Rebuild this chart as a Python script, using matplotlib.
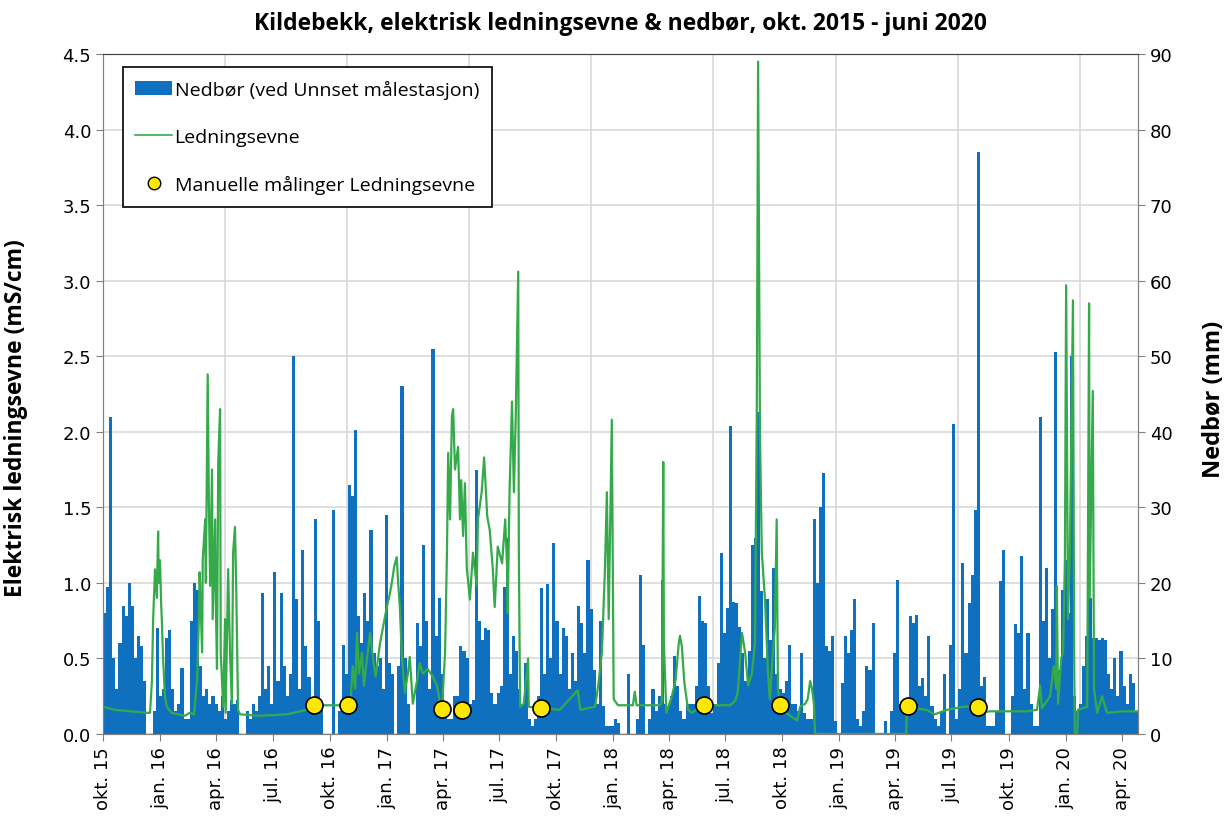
import numpy as np
import pandas as pd
import matplotlib
matplotlib.use('Agg')
import matplotlib.pyplot as plt
from matplotlib.lines import Line2D
from matplotlib.patches import Patch

plt.rcParams['font.family'] = ['DejaVu Sans']

start = pd.Timestamp('2015-10-01')

# nedbør (mm), 5-dagers intervall fra 1. okt. 2015
precip_mm = [
    16, 19.5, 42, 10, 6, 12, 17, 15.6, 20, 17,
    10, 13, 11.6, 7, 0, 0, 3, 14, 5, 6,
    12.7, 13.8, 6, 3, 4, 8.7, 2, 2, 15, 20,
    19, 9, 5, 6, 4, 5, 4, 3, 5, 2,
    3, 4.5, 4, 4.5, 0, 0, 3, 2, 4, 3,
    5, 18.7, 6, 9, 4, 21.5, 7, 18.7, 9, 5,
    8, 50, 17.8, 6, 24.4, 11.6, 7.6, 3, 28.4, 15,
    4, 0, 0, 0, 29.7, 0, 3, 11.8, 8, 33,
    31.5, 40.3, 15.6, 12, 18.7, 15, 27, 10.7, 9, 10,
    6, 29, 9.4, 8, 0, 9, 46, 10, 4, 0,
    0, 14.7, 11.6, 25, 15, 6, 51, 13, 18, 8,
    4, 2, 2, 5, 5, 11.6, 11, 10, 4, 4.5,
    35, 15, 12.5, 14, 13.8, 5.4, 4, 5.4, 6.3, 19.5,
    26, 8, 13, 11, 6, 4, 9.4, 2, 1, 2,
    5, 19.3, 8, 19.8, 10, 25.3, 15, 8, 14, 13,
    6, 10.7, 7, 17, 14.7, 10.7, 23, 16.5, 8.5, 4,
    15, 3.7, 1, 1, 1, 2, 1.5, 0, 0, 8,
    0, 0, 2, 21, 11.8, 0, 2, 6, 3, 5,
    20.4, 4, 3.7, 5, 10.3, 6.3, 3, 2, 4, 4,
    4, 6.3, 18.2, 15, 14.7, 6.3, 2.8, 4, 9.4, 24,
    13.4, 16.7, 40.8, 17.5, 17.3, 14.2, 10.7, 7, 11, 25,
    26, 42.6, 18.9, 10, 17.8, 12.5, 22, 8, 6, 5.4,
    7, 11.8, 4, 4, 3, 10.7, 2.8, 2, 2, 28.4,
    20, 30, 34.5, 11.6, 11, 13, 1.7, 0, 6.7, 13,
    10.7, 13.8, 17.8, 2, 1, 3, 9, 8.5, 14.7, 0,
    0, 0, 1.7, 0, 3, 10.7, 20.4, 4, 4, 4,
    15.6, 14.7, 15.8, 6.3, 7.4, 5, 13, 3.7, 2, 1,
    3, 8, 0, 11.8, 41, 2, 6, 22.6, 10.7, 17.3,
    21, 29.7, 77, 6.3, 7.6, 1, 1, 1, 3, 20.2,
    24.4, 0, 0, 5, 14.5, 13.4, 23.6, 6, 13.4, 4,
    1, 1, 42, 15, 22, 10, 16.5, 50.6, 8.5, 19,
    23, 16, 50, 5, 3, 4, 9, 13, 18, 12.7,
    12.7, 12.5, 12.7, 12.5, 8, 6, 10, 5, 11, 6.3,
    4, 8, 6.7, 3,
]

# ledningsevne (mS/cm), dag nr. fra 1. okt. 2015
cond_day = [
    0, 19, 44, 71, 76, 79, 81, 84, 87, 89, 90, 92, 94, 95, 97, 100, 103, 111, 132, 140,
    147, 152, 155, 156, 160, 161, 165, 166, 169, 171, 173, 176, 177, 181, 182, 184, 186, 189, 190, 194,
    197, 198, 202, 205, 208, 210, 213, 215, 218, 221, 253, 297, 318, 329, 340, 395, 400, 403, 407, 410,
    413, 418, 421, 426, 431, 436, 440, 447, 452, 458, 463, 466, 470, 474, 476, 479, 482, 487, 492, 495,
    500, 507, 511, 516, 524, 532, 539, 544, 547, 552, 555, 557, 560, 563, 565, 568, 573, 576, 578, 581,
    584, 587, 592, 597, 603, 605, 611, 615, 620, 624, 629, 632, 637, 644, 649, 652, 653, 656, 660, 663,
    666, 670, 671, 673, 679, 686, 687, 705, 737, 766, 770, 794, 799, 805, 810, 813, 816, 821, 824, 831,
    855, 858, 861, 899, 902, 904, 905, 909, 918, 924, 929, 931, 934, 938, 944, 950, 960, 970, 1012, 1020,
    1024, 1031, 1036, 1041, 1047, 1052, 1055, 1057, 1060, 1063, 1068, 1073, 1076, 1081, 1084, 1087, 1089, 1092, 1102, 1112,
    1120, 1125, 1133, 1137, 1141, 1144, 1147, 1149, 1296, 1297, 1299, 1310, 1329, 1342, 1362, 1388, 1412, 1417, 1431, 1491,
    1507, 1512, 1515, 1528, 1534, 1538, 1539, 1541, 1546, 1549, 1552, 1554, 1557, 1560, 1565, 1567, 1568, 1572, 1573, 1588,
    1591, 1592, 1597, 1599, 1604, 1612, 1620, 1646, 1670,
]
cond_val = [
    0.18, 0.16, 0.15, 0.14, 0.14, 0.35, 0.76, 1.09, 0.9, 1.34, 1.0, 1.15, 0.85, 0.76, 0.5, 0.25, 0.18, 0.14, 0.12, 0.14,
    0.13, 0.36, 0.8, 1.07, 0.54, 1.15, 1.42, 1.0, 2.38, 1.5, 0.98, 1.75, 0.76, 1.42, 0.9, 0.43, 1.8, 2.15, 0.54, 0.18,
    0.76, 0.14, 1.09, 0.54, 0.2, 1.2, 1.37, 0.98, 0.16, 0.13, 0.12, 0.13, 0.15, 0.16, 0.19, 0.19, 0.25, 0.45, 0.3, 0.67,
    0.4, 0.54, 0.32, 0.5, 0.67, 0.49, 0.38, 0.6, 0.71, 0.84, 0.93, 1.0, 1.11, 1.17, 1.02, 0.84, 0.54, 0.27, 0.4, 0.51,
    0.2, 0.36, 0.47, 0.4, 0.43, 0.38, 0.32, 0.2, 0.17, 0.54, 1.2, 1.86, 1.42, 2.1, 2.15, 1.75, 1.9, 1.42, 1.68, 1.31,
    1.66, 1.1, 0.89, 1.2, 0.98, 1.42, 1.6, 1.83, 1.44, 1.35, 1.09, 0.84, 1.24, 1.13, 1.42, 1.1, 0.8, 1.6, 2.2, 1.6,
    2.1, 3.06, 1.2, 0.18, 0.2, 0.5, 0.18, 0.17, 0.16, 0.29, 0.16, 0.18, 0.32, 0.54, 1.1, 1.6, 0.76, 2.08, 0.23, 0.19,
    0.19, 0.28, 0.19, 0.19, 0.22, 1.8, 0.6, 0.14, 0.25, 0.36, 0.6, 0.65, 0.58, 0.34, 0.16, 0.14, 0.17, 0.19, 0.19, 0.22,
    0.27, 0.67, 0.54, 0.32, 0.4, 0.6, 2.2, 4.45, 2.0, 1.2, 0.9, 0.4, 0.23, 0.54, 0.7, 1.42, 0.3, 0.19, 0.14, 0.11,
    0.09, 0.18, 0.2, 0.23, 0.35, 0.3, 0.2, 0.0, 0.0, 0.16, 0.19, 0.17, 0.16, 0.13, 0.16, 0.18, 0.18, 0.14, 0.15, 0.15,
    0.16, 0.32, 0.17, 0.25, 0.45, 0.3, 0.98, 0.2, 0.5, 0.54, 1.15, 2.97, 0.76, 1.2, 2.87, 0.5, 0.0, 0.0, 0.16, 0.18,
    2.85, 0.9, 2.27, 0.3, 0.14, 0.25, 0.14, 0.15, 0.15,
]

# manuelle målinger
manual_day = [340, 395, 547, 579, 707, 970, 1092, 1299, 1412]
manual_val = [0.19, 0.19, 0.165, 0.16, 0.17, 0.19, 0.19, 0.185, 0.18]

month_no = {1: 'jan.', 4: 'apr.', 7: 'jul.', 10: 'okt.'}

precip_dates = start + pd.to_timedelta(np.arange(len(precip_mm)) * 5, unit='D')
cond_dates = start + pd.to_timedelta(cond_day, unit='D')
manual_dates = start + pd.to_timedelta(manual_day, unit='D')

fig = plt.figure(figsize=(12.27, 8.2), dpi=100)
ax = fig.add_axes([0.0839, 0.1037, 0.8436, 0.8292])
ax2 = ax.twinx()
ax.set_zorder(ax2.get_zorder() + 1)
ax.patch.set_visible(False)

# grid (bak søylene)
ax2.set_axisbelow(True)
ax2.yaxis.grid(True, color='#d9d9d9', lw=1.2)
for k in range(1, 9):
    ax2.axvline(start + pd.Timedelta(days=197 * k), color='#d9d9d9', lw=1.2, zorder=0)

ax2.bar(precip_dates, precip_mm, width=5, align='edge', color='#1070C0',
        linewidth=0, zorder=2)
ax.plot(cond_dates, cond_val, color='#35AA4A', lw=1.6, zorder=3)
ax.scatter(manual_dates, manual_val, s=150, color='#FFE800', edgecolor='black',
           linewidth=1.2, zorder=4)

ax.set_xlim(start, start + pd.Timedelta(days=1670))
ax.set_ylim(0, 4.5)
ax2.set_ylim(0, 90)
ax.set_yticks(np.arange(0, 4.51, 0.5))
ax.set_yticklabels([f'{v:.1f}' for v in np.arange(0, 4.51, 0.5)])
ax2.set_yticks(np.arange(0, 91, 10))

ticks = pd.date_range('2015-10-01', '2020-04-01', freq='3MS')
ax.set_xticks(ticks)
ax.set_xticklabels([f'{month_no[t.month]} {t.year % 100}' for t in ticks], rotation=90)

for a in (ax, ax2):
    a.tick_params(labelsize=13, length=5, color='#808080')
    for s in a.spines.values():
        s.set_color('#808080')
ax.spines['top'].set_color('#404040')

ax.set_ylabel('Elektrisk ledningsevne (mS/cm)', fontsize=16.5, fontweight='bold',
              family='Open Sans')
ax.yaxis.set_label_coords(-0.072, 0.466)
ax2.set_ylabel('Nedbør (mm)', fontsize=17, fontweight='bold', family='Open Sans')
ax2.yaxis.set_label_coords(1.062, 0.493)
ax.set_title('Kildebekk, elektrisk ledningsevne & nedbør, okt. 2015 - juni 2020',
             fontsize=16.5, fontweight='bold', family='Open Sans', pad=18)

handles = [
    Patch(facecolor='#1070C0', edgecolor='none', label='Nedbør (ved Unnset målestasjon)'),
    Line2D([], [], color='#35AA4A', lw=1.2, label='Ledningsevne'),
    Line2D([], [], marker='o', ls='none', markersize=9, markerfacecolor='#FFE800',
           markeredgecolor='black', label='Manuelle målinger Ledningsevne'),
]
leg = ax.legend(handles=handles, loc='upper left', bbox_to_anchor=(0.019, 0.981),
                prop={'family': 'Open Sans', 'size': 14}, borderaxespad=0,
                frameon=True, fancybox=False, edgecolor='black', framealpha=1,
                labelspacing=1.5, handlelength=1.9, handletextpad=0.12,
                borderpad=0.65)
leg.get_frame().set_linewidth(1.2)

fig.savefig('out.png', dpi=100)
